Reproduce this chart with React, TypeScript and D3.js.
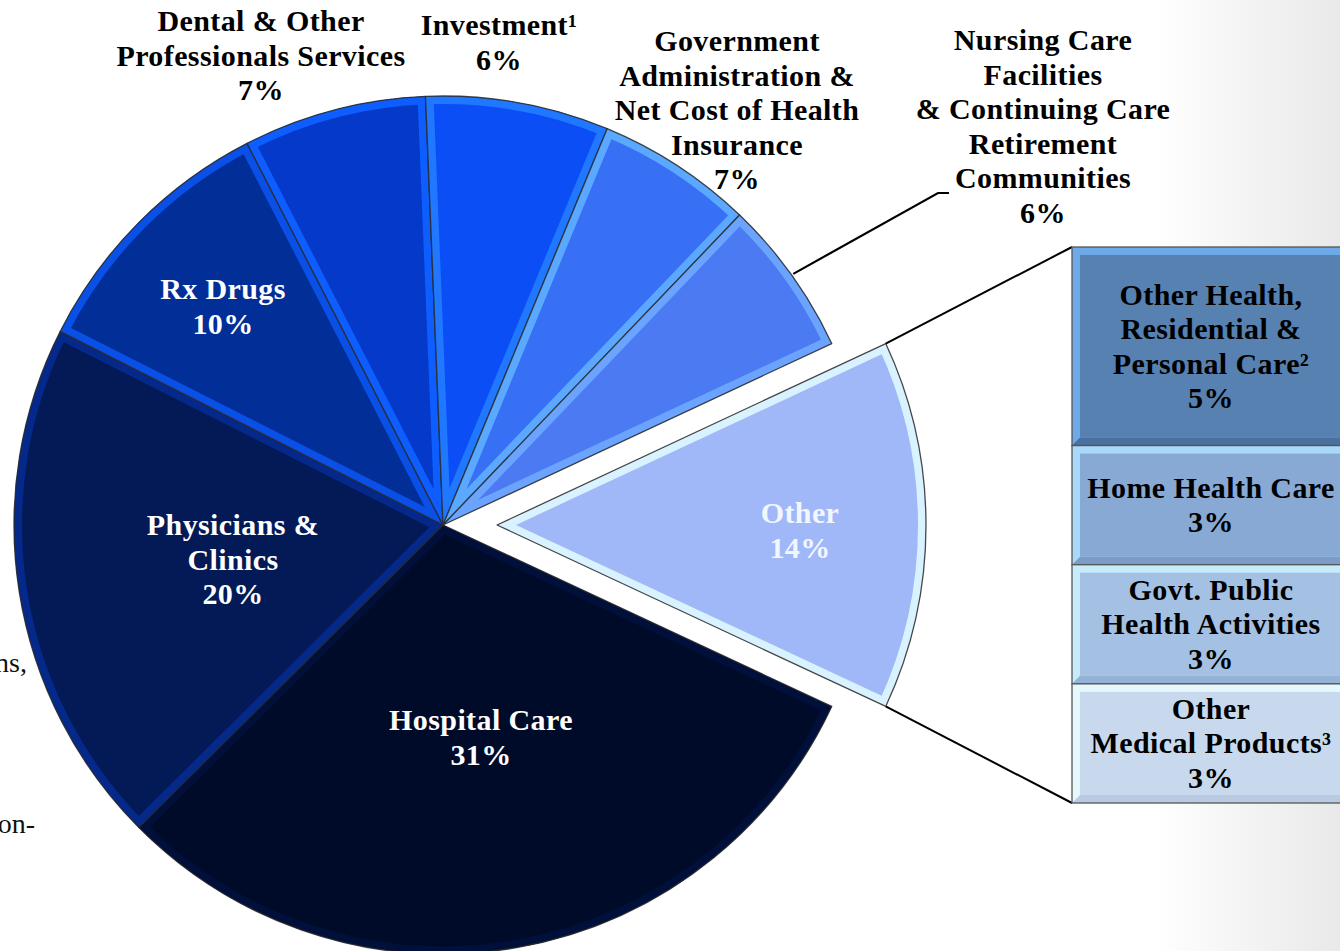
import React from 'react';
import * as d3 from 'd3';

// ---------- DATA ----------
const pieCategories = [
  'Other',
  'Hospital Care',
  'Physicians & Clinics',
  'Rx Drugs',
  'Dental & Other Professionals Services',
  'Investment',
  'Government Administration & Net Cost of Health Insurance',
  'Nursing Care Facilities & Continuing Care Retirement Communities',
];
const pieValues = [13.9, 30.6, 19.9, 10.0, 6.9, 6.9, 5.9, 5.9];
const pieLabelLines = [
  ['Other', '14%'],
  ['Hospital Care', '31%'],
  ['Physicians &', 'Clinics', '20%'],
  ['Rx Drugs', '10%'],
  ['Dental & Other', 'Professionals Services', '7%'],
  ['Investment\u00B9', '6%'],
  ['Government', 'Administration &', 'Net Cost of Health', 'Insurance', '7%'],
  ['Nursing Care', 'Facilities', '& Continuing Care', 'Retirement', 'Communities', '6%'],
];

const barCategories = [
  'Other Health, Residential & Personal Care',
  'Home Health Care',
  'Govt. Public Health Activities',
  'Other Medical Products',
];
const barValues = [5, 3, 3, 3];
const barLabelLines = [
  ['Other Health,', 'Residential &', 'Personal Care\u00B2', '5%'],
  ['Home Health Care', '3%'],
  ['Govt. Public', 'Health Activities', '3%'],
  ['Other', 'Medical Products\u00B3', '3%'],
];

// ---------- STYLE ----------
const sliceFill = ['#a0b7f8', '#000b29', '#031a56', '#022e98', '#0439c9', '#0b4ef5', '#376ff5', '#4b7af2'];
const sliceBand = ['#d9f2ff', '#00103a', '#05298a', '#0a4fe6', '#0d5dff', '#1f78ff', '#5aa8ff', '#6aa4ff'];
const barFill = ['#5781b1', '#87a9d4', '#a4c1e3', '#c8d9ed'];
const barLight = ['#6eaae8', '#a9d8f8', '#c6ecfc', '#e6f7fd'];
const barDark = ['#4a709f', '#7b9cc6', '#95b3d6', '#b8cbe2'];

// label placement (text layout only)
const pieLabelPos: { x: number; y: number; color: string }[] = [
  { x: 800, y: 523, color: '#f2f6ff' },
  { x: 481, y: 730, color: '#ffffff' },
  { x: 233, y: 535, color: '#ffffff' },
  { x: 223, y: 299, color: '#ffffff' },
  { x: 261, y: 31, color: '#000000' },
  { x: 499, y: 35, color: '#000000' },
  { x: 737, y: 51, color: '#000000' },
  { x: 1043, y: 50, color: '#000000' },
];

const FONT = "'Liberation Serif', 'Times New Roman', serif";
const FS = 30;
const LS = 0.4;
const LH = 34.5;

export default function App() {
  const W = 1340;
  const H = 951;
  const cx = 443;
  const cy = 525;
  const R = 429;
  const explode = 54;
  const total = d3.sum(pieValues);
  const start = Math.PI / 2 - (pieValues[0] / total) * Math.PI;

  const pie = d3
    .pie<number>()
    .sort(null)
    .value((d) => d)
    .startAngle(start)
    .endAngle(start + 2 * Math.PI);
  const arcs = pie(pieValues);
  const arcGen = d3.arc<d3.PieArcDatum<number>>().innerRadius(0).outerRadius(R);

  const offset = (i: number) => {
    if (i !== 0) return [0, 0];
    const a = (arcs[i].startAngle + arcs[i].endAngle) / 2;
    return [explode * Math.sin(a), -explode * Math.cos(a)];
  };

  // bar
  const barX = 1072;
  const barW = 278;
  const y = d3.scaleLinear().domain([0, d3.sum(barValues)]).range([247, 803]);
  const cum = d3.cumsum(barValues);
  const segs = barValues.map((v, i) => ({ v, y0: y(cum[i] - v), y1: y(cum[i]) }));

  // connectors from exploded slice corners
  const [ox, oy] = offset(0);
  const oa0 = arcs[0].startAngle;
  const oa1 = arcs[0].endAngle;
  const p0 = [cx + ox + R * Math.sin(oa0), cy + oy - R * Math.cos(oa0)];
  const p1 = [cx + ox + R * Math.sin(oa1), cy + oy - R * Math.cos(oa1)];

  // nursing leader line
  const nA = (arcs[7].startAngle + arcs[7].endAngle) / 2;
  const nP = [cx + (R + 2) * Math.sin(nA), cy - (R + 2) * Math.cos(nA)];

  const bw = 8;

  return (
    <svg
      width={W}
      height={H}
      style={{ position: 'absolute', left: 0, top: 0, display: 'block' }}
      xmlns="http://www.w3.org/2000/svg"
    >
      <defs>
        <linearGradient id="bg" x1="0" x2="1" y1="0" y2="0">
          <stop offset="0" stopColor="#ffffff" />
          <stop offset="0.86" stopColor="#ffffff" />
          <stop offset="1" stopColor="#e9e9e9" />
        </linearGradient>
        {arcs.map((a, i) => (
          <clipPath id={`clip${i}`} key={i}>
            <path d={arcGen(a) || ''} />
          </clipPath>
        ))}
      </defs>
      <rect x={0} y={0} width={W} height={H} fill="url(#bg)" />

      {/* left cut-off footnote text */}
      <text x={27} y={672} textAnchor="end" fontFamily={FONT} fontSize={28} fill="#111">
        ns,
      </text>
      <text x={35} y={833} textAnchor="end" fontFamily={FONT} fontSize={28} fill="#111">
        on-
      </text>

      {/* pie slices */}
      {arcs.map((a, i) => {
        const [dx, dy] = offset(i);
        const d = arcGen(a) || '';
        return (
          <g key={i} transform={`translate(${cx + dx},${cy + dy})`}>
            <title>{pieCategories[i]}</title>
            <path d={d} fill={sliceFill[i]} />
            <path d={d} fill="none" stroke={sliceBand[i]} strokeWidth={bw * 2} clipPath={`url(#clip${i})`} />
            <path d={d} fill="none" stroke="#2a2a2a" strokeOpacity={0.85} strokeWidth={1.3} strokeLinejoin="round" />
          </g>
        );
      })}

      {/* connector lines */}
      <line x1={p0[0]} y1={p0[1]} x2={barX} y2={segs[0].y0} stroke="#000" strokeWidth={2} />
      <line x1={p1[0]} y1={p1[1]} x2={barX} y2={segs[segs.length - 1].y1} stroke="#000" strokeWidth={2} />
      <polyline
        points={`${nP[0]},${nP[1]} 938,193 949,193`}
        fill="none"
        stroke="#000"
        strokeWidth={2.2}
      />

      {/* bar of pie */}
      {segs.map((s, i) => {
        const h = s.y1 - s.y0;
        return (
          <g key={i}>
            <title>{barCategories[i]}</title>
            <rect x={barX} y={s.y0} width={barW} height={h} fill={barLight[i]} />
            <polygon
              points={`${barX},${s.y1} ${barX + bw},${s.y1 - bw} ${barX + barW - bw},${s.y1 - bw} ${barX + barW},${s.y1}`}
              fill={barDark[i]}
            />
            <rect x={barX + bw} y={s.y0 + bw} width={barW - 2 * bw} height={h - 2 * bw} fill={barFill[i]} />
            <rect x={barX} y={s.y0} width={barW} height={h} fill="none" stroke="#555" strokeWidth={1.3} />
          </g>
        );
      })}

      {/* bar labels */}
      {segs.map((s, i) => {
        const lines = barLabelLines[i];
        const mid = (s.y0 + s.y1) / 2;
        const first = mid - ((lines.length - 1) * LH) / 2 + 10;
        return (
          <text key={i} x={1211} y={first} textAnchor="middle" fontFamily={FONT} fontSize={FS} fontWeight="bold" letterSpacing={LS} fill="#000">
            {lines.map((l, j) => (
              <tspan key={j} x={1211} y={first + j * LH}>
                {l}
              </tspan>
            ))}
          </text>
        );
      })}

      {/* pie labels */}
      {pieLabelLines.map((lines, i) => {
        const p = pieLabelPos[i];
        return (
          <text key={i} x={p.x} y={p.y} textAnchor="middle" fontFamily={FONT} fontSize={FS} fontWeight="bold" letterSpacing={LS} fill={p.color}>
            {lines.map((l, j) => (
              <tspan key={j} x={p.x} y={p.y + j * LH}>
                {l}
              </tspan>
            ))}
          </text>
        );
      })}
    </svg>
  );
}
